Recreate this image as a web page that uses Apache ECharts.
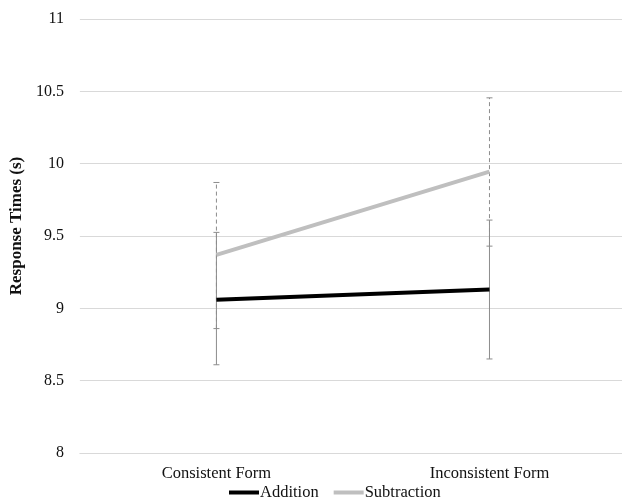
<!DOCTYPE html>
<html>
<head>
<meta charset="utf-8">
<script src="https://cdn.jsdelivr.net/npm/echarts@6/dist/echarts.min.js"></script>
<style>
html, body { margin: 0; padding: 0; background: #fff; overflow: hidden; }
#chart { width: 630px; height: 503px; }
</style>
</head>
<body>
<div id="chart"></div>
<script>
var categories = ['Consistent Form', 'Inconsistent Form'];
var additionValues = [9.06, 9.13];
var additionLow = [8.61, 8.65];
var additionHigh = [9.525, 9.61];
var subtractionValues = [9.37, 9.945];
var subtractionLow = [8.86, 9.43];
var subtractionHigh = [9.87, 10.455];
var yTicks = [8, 8.5, 9, 9.5, 10, 10.5, 11];

var font = '"Liberation Serif", "Times New Roman", serif';

function errorSeries(low, high, dashed) {
    var data = [];
    for (var i = 0; i < categories.length; i++) {
        data.push([i, low[i], high[i]]);
    }
    return {
        type: 'custom',
        silent: true,
        z: 1,
        data: data,
        renderItem: function (params, api) {
            var x = api.value(0);
            var lo = api.coord([x, api.value(1)]);
            var hi = api.coord([x, api.value(2)]);
            var cap = 3;
            var style = { stroke: '#8c8c8c', lineWidth: 1, lineDash: dashed ? [4, 3] : null };
            return {
                type: 'group',
                children: [
                    { type: 'line', shape: { x1: lo[0], y1: lo[1], x2: hi[0], y2: hi[1] }, style: style },
                    { type: 'line', shape: { x1: lo[0] - cap, y1: lo[1], x2: lo[0] + cap, y2: lo[1] }, style: { stroke: '#8c8c8c', lineWidth: 1 } },
                    { type: 'line', shape: { x1: hi[0] - cap, y1: hi[1], x2: hi[0] + cap, y2: hi[1] }, style: { stroke: '#8c8c8c', lineWidth: 1 } }
                ]
            };
        }
    };
}

var chart = echarts.init(document.getElementById('chart'));
var option = {
    animation: false,
    backgroundColor: '#fff',
    textStyle: { fontFamily: font },
    grid: { left: 77, width: 549, top: 19, height: 434 },
    legend: {
        data: ['Addition', 'Subtraction'],
        icon: 'rect',
        bottom: -3,
        left: 224,
        itemWidth: 30,
        itemHeight: 4,
        itemGap: 15,
        textStyle: { fontFamily: font, fontSize: 16.5, color: '#111', padding: [0, 0, 0, -4] }
    },
    xAxis: {
        type: 'category',
        data: categories,
        axisLine: { show: true, lineStyle: { color: '#d9d9d9' } },
        axisTick: { show: false },
        axisLabel: { fontFamily: font, fontSize: 16.5, color: '#111', margin: 12 }
    },
    yAxis: {
        type: 'value',
        min: yTicks[0],
        max: yTicks[yTicks.length - 1],
        interval: 0.5,
        name: 'Response Times (s)',
        nameLocation: 'middle',
        nameGap: 53,
        nameTextStyle: { fontFamily: font, fontSize: 17, fontWeight: 'bold', color: '#111', padding: [0, 0, 0, 20] },
        axisLine: { show: false },
        axisTick: { show: false },
        splitLine: { lineStyle: { color: '#d9d9d9' } },
        axisLabel: { fontFamily: font, fontSize: 16, color: '#111', margin: 16 }
    },
    series: [
        errorSeries(subtractionLow, subtractionHigh, true),
        errorSeries(additionLow, additionHigh, false),
        {
            name: 'Addition',
            type: 'line',
            data: additionValues,
            symbol: 'none',
            z: 3,
            itemStyle: { color: '#000' },
            lineStyle: { color: '#000', width: 4 }
        },
        {
            name: 'Subtraction',
            type: 'line',
            data: subtractionValues,
            symbol: 'none',
            z: 2,
            itemStyle: { color: '#bfbfbf' },
            lineStyle: { color: '#bfbfbf', width: 4 }
        }
    ]
};
chart.setOption(option);
</script>
</body>
</html>
